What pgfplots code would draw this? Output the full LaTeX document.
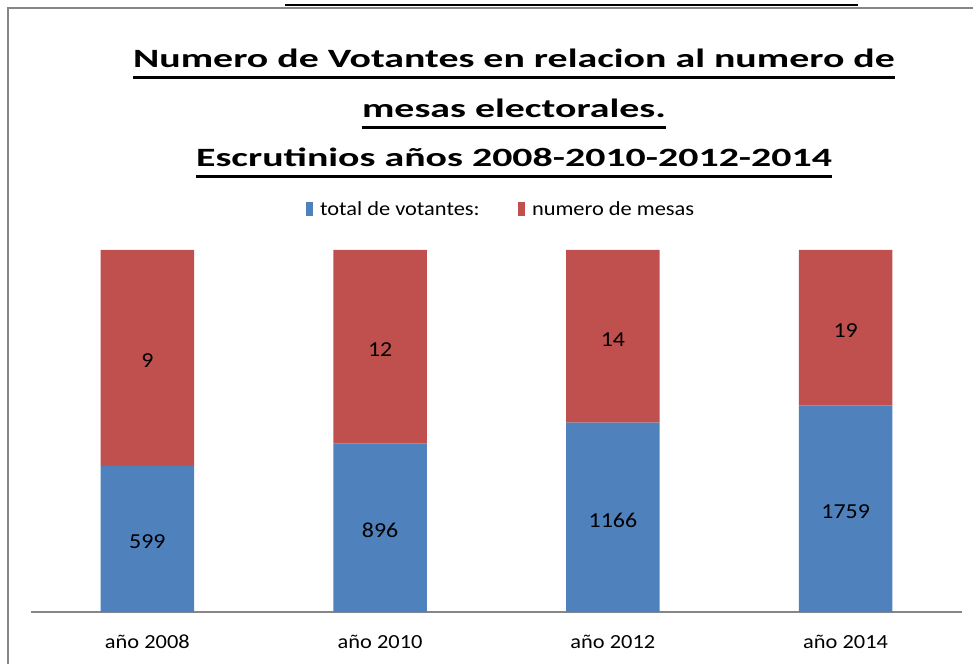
\documentclass[border=0pt]{standalone}
\usepackage{pgfplots}
\pgfplotsset{compat=1.18}
\usepackage{fontspec}
\setmainfont[FakeStretch=1.12]{Carlito}
\newfontfamily\titlefont[FakeStretch=1.51]{Carlito}
\definecolor{bblue}{HTML}{4F81BD}
\definecolor{rred}{HTML}{C0504D}
\definecolor{frame}{RGB}{134,134,134}
\pgfplotsset{
  common/.style={
    at={(23.25pt,38.25pt)}, anchor=south west,
    width=698.25pt, height=271.5pt, scale only axis,
    xmin=-0.5, xmax=3.5, ymin=0, ymax=100, clip=false,
  }
}
\begin{document}
\begin{tikzpicture}
\path[use as bounding box] (0,0) rectangle (729.75pt,497.25pt);
\draw[frame, line width=1.4pt] (6pt,-2pt) -- (6pt,491.25pt) -- (732pt,491.25pt);
\fill[black] (213.75pt,492.4pt) rectangle (643.5pt,494.6pt);
\begin{axis}[
  common,
  ybar stacked, bar width=70pt,
  xtick={0,1,2,3},
  xticklabels={año 2008, año 2010, año 2012, año 2014},
  ytick=\empty,
  axis x line*=bottom, axis y line=none,
  x axis line style={-, draw=frame, line width=0.8pt},
  major tick length=0pt,
  xticklabel style={anchor=base, yshift=-27pt, font=\fontsize{15}{18}\selectfont},
  legend style={at={(0.5055,1.113)}, anchor=center, legend columns=2, draw=none, fill=none,
    font=\fontsize{15}{18}\selectfont,
    /tikz/every even column/.append style={column sep=27pt}},
  legend image code/.code={\fill[#1, draw=none] (0pt,-5pt) rectangle (5.25pt,5pt); \path (8.25pt,0pt);},
]
\addplot[fill=bblue, draw=none] coordinates {(0,40.3) (1,46.5) (2,52.3) (3,57.0)};
\addplot[fill=rred, draw=none] coordinates {(0,59.7) (1,53.5) (2,47.7) (3,43.0)};
\legend{total de votantes:, numero de mesas}
\end{axis}
% value labels, centred in each segment
\begin{axis}[
  common, hide axis,
  nodes near coords, point meta=explicit symbolic,
  every node near coord/.append style={anchor=center, yshift=-2.2pt, font=\fontsize{16}{18}\selectfont, text=black},
]
\addplot[draw=none, mark=none] coordinates {(0,20.15)[599] (1,23.25)[896] (2,26.15)[1166] (3,28.5)[1759]};
\addplot[draw=none, mark=none] coordinates {(0,70.15)[9] (1,73.25)[12] (2,76.15)[14] (3,78.5)[19]};
\end{axis}
\begin{scope}[every node/.style={anchor=base, inner sep=0pt, font=\titlefont\bfseries\fontsize{19.8}{24}\selectfont}]
\node (t1) at (385.5pt,446.25pt) {Numero de Votantes en relacion al numero de};
\node (t2) at (385.5pt,409.1pt) {mesas electorales.};
\node (t3) at (385.5pt,372pt) {Escrutinios años 2008-2010-2012-2014};
\end{scope}
\foreach \t in {t1,t2,t3}{
  \draw[line width=2.4pt] ([yshift=-7.2pt]\t.base west) -- ([yshift=-7.2pt]\t.base east);
}
\end{tikzpicture}
\end{document}
